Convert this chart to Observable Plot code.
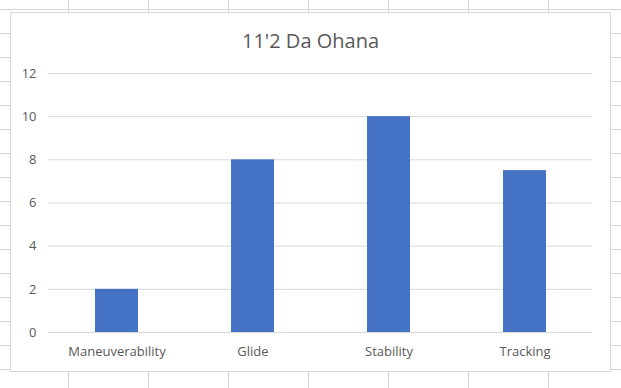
<!DOCTYPE html>
<html><head><meta charset="utf-8">
<script src="https://cdn.jsdelivr.net/npm/d3@7"></script>
<script src="https://cdn.jsdelivr.net/npm/@observablehq/plot@0.6"></script>
<style>
html,body{margin:0;padding:0;background:#fff;}
#sheet{position:relative;width:621px;height:388px;overflow:hidden;background-color:#fff;
 background-image:linear-gradient(to right,#d4d4d4 1px,transparent 1px),linear-gradient(to bottom,#d4d4d4 1px,transparent 1px);
 background-size:80px 24px;background-position:68px 9px;}
#frame{position:absolute;left:10px;top:12px;width:599px;height:358px;background:#fff;border:1px solid #d9d9d9;}
#chart{position:absolute;left:0;top:0;}
</style></head>
<body>
<div id="sheet"><div id="frame"></div><div id="chart"></div></div>
<script>
const categories = ["Maneuverability", "Glide", "Stability", "Tracking"];
const values = [2, 8, 10, 7.5];
const yTicks = [0, 2, 4, 6, 8, 10, 12];
const title = "11'2 Da Ohana";

const data = categories.map((c, i) => ({category: c, value: values[i]}));

const chart = Plot.plot({
  width: 621, height: 388,
  marginLeft: 48, marginRight: 29, marginTop: 73, marginBottom: 56,
  style: {background: "transparent", fontFamily: "'Open Sans', sans-serif", fontSize: "13px", color: "#595959"},
  x: {domain: categories, paddingInner: 0.686, paddingOuter: 0.343, label: null},
  y: {domain: [0, 12], label: null},
  marks: [
    Plot.gridY(yTicks, {stroke: "#d9d9d9", strokeOpacity: 1}),
    Plot.barY(data, {x: "category", y: "value", fill: "#4472c4"}),
    Plot.axisY(yTicks, {tickSize: 0, tickPadding: 12, label: null, fill: "#595959", fontSize: 13}),
    Plot.axisX({tickSize: 0, tickPadding: 14, label: null, fill: "#595959", fontSize: 13}),
    Plot.text([title], {frameAnchor: "top", lineAnchor: "middle", dx: -10, dy: -32, fontSize: 20, fill: "#595959"})
  ]
});
document.getElementById("chart").appendChild(chart);
</script>
</body></html>
